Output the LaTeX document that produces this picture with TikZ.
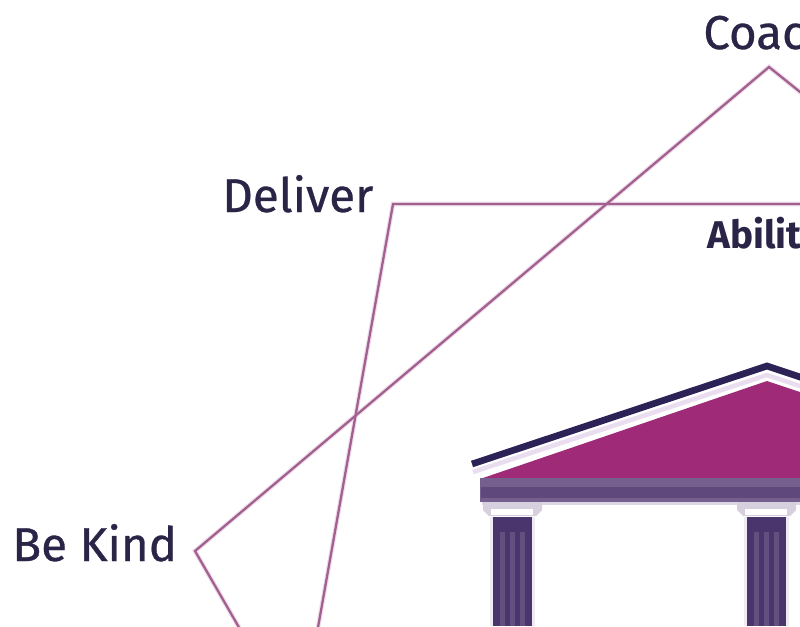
\documentclass[tikz,border=0pt]{standalone}
\usepackage{xcolor}
\usepackage{fontspec}
\setmainfont{Fira Sans}
\newfontfamily\labelfont{Fira Sans}[FakeBold=0.6]
\definecolor{ink}{HTML}{2A2447}
\definecolor{star}{HTML}{A2608F}
\definecolor{halo}{HTML}{EFDDEC}
\definecolor{magenta}{HTML}{9E2A78}
\definecolor{beam}{HTML}{755F8F}
\definecolor{beamdark}{HTML}{5E487C}
\definecolor{beamfade}{HTML}{DDD7E4}
\definecolor{capital}{HTML}{D6D0DE}
\definecolor{column}{HTML}{4A356C}
\definecolor{flute}{HTML}{64507F}
\definecolor{columnedge}{HTML}{EFEBF3}
\definecolor{rooftop}{HTML}{2C2255}
\definecolor{roofgap}{HTML}{EADDF0}

\begin{document}
\begin{tikzpicture}[
    x=0.02cm, y=-0.02cm,
    label/.style={font=\labelfont\fontsize{27}{27}\selectfont, text=ink, anchor=base west, inner sep=0pt},
    sublabel/.style={font=\bfseries\fontsize{22}{22}\selectfont, text=ink, anchor=base west, inner sep=0pt},
    halo line/.style={draw=halo, line width=2.6pt, line join=miter},
    star line/.style={draw=star, line width=1.3pt, line join=miter}
]
\clip (0,0) rectangle (800,626);
\fill[white] (0,0) rectangle (800,626);

\node[label] (coach) at (703,49) {Coac};
\node[label] (deliver) at (222,212) {Deliver};
\node[label] (bekind) at (12,561) {Be Kind};
\node[sublabel] (ability) at (707,248) {Abilit};

\coordinate (coachtip) at (769,67);
\coordinate (delivertip) at (393,204);
\coordinate (kindtip) at (195,551);
\coordinate (coachend) at (825,112);
\coordinate (deliverend) at (825,204);
\coordinate (deliverfoot) at (314,650);
\coordinate (kindfoot) at (252,650);

% Star lines, pale edge first.
\foreach \s in {halo line, star line} {
    \draw[\s] (coachend) -- (coachtip) -- (kindtip) -- (kindfoot);
    \draw[\s] (deliverend) -- (delivertip) -- (deliverfoot);
}

% Roof.
\fill[magenta] (480,479) -- (767,381) -- (830,402) -- (830,479) -- cycle;
\draw[roofgap, line width=2.6pt] (473,472) -- (767,375) -- (830,396);
\draw[rooftop, line width=3.8pt] (472,464) -- (767,366) -- (830,387);

% Beam.
\fill[beamfade] (482,502) rectangle (800,505);
\fill[beam] (480,478) rectangle (800,502);
\fill[beamdark] (481,487) rectangle (800,498);

% Columns.
\foreach \x in {483,737} {
    \fill[capital] (\x,502) -- ++(59,0) -- ++(0,8) -- ++(-6,6) -- ++(-47,0) -- ++(-6,-6) -- cycle;
    \fill[white] (\x+8,509) rectangle (\x+50,515);
    \fill[columnedge] (\x+7,517) rectangle (\x+52,626);
    \fill[column] (\x+10,517) rectangle (\x+49,626);
    \foreach \d in {17,27,37} {
        \fill[flute] (\x+\d,532) rectangle (\x+\d+5,626);
    }
}
\end{tikzpicture}
\end{document}
